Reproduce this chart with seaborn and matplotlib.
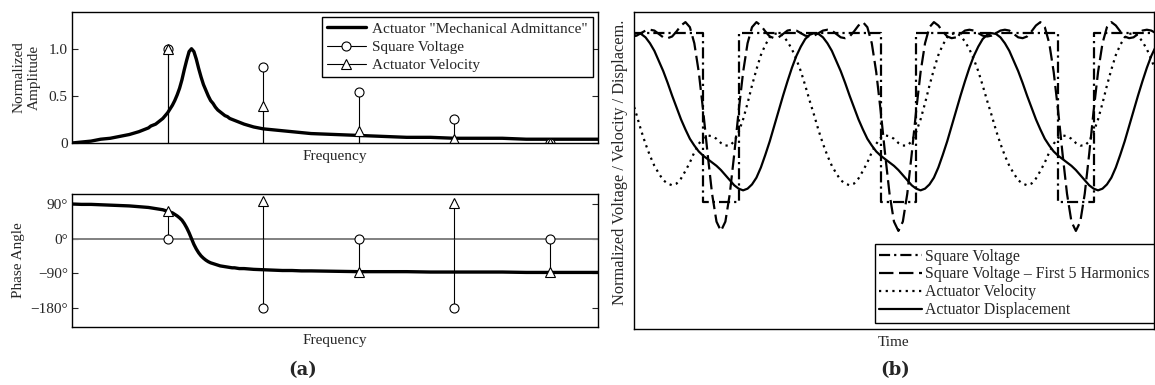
import numpy as np
import matplotlib
matplotlib.use("Agg")
import matplotlib.pyplot as plt
from matplotlib.lines import Line2D
import seaborn as sns

# (a) frequency domain: admittance curve
freq = [0, 0.1, 0.2, 0.3, 0.4, 0.5, 0.6, 0.7,
        0.8, 0.825, 0.85, 0.875, 0.9, 0.925, 0.95, 0.975, 1.0, 1.025,
        1.05, 1.075, 1.1, 1.125, 1.15, 1.175, 1.2, 1.225, 1.25, 1.275,
        1.3, 1.325, 1.35, 1.375, 1.4, 1.425, 1.45, 1.475, 1.5, 1.525,
        1.55, 1.575, 1.6, 1.625, 1.65, 1.675, 1.7, 1.725, 1.75, 1.775,
        1.8, 1.9, 2.0, 2.1, 2.2, 2.3, 2.4,
        2.5, 2.75, 3.0, 3.25, 3.5, 3.75, 4.0, 4.25, 4.5, 4.75, 5.0, 5.25, 5.5]
admittance_amp = [0.00, 0.01, 0.02, 0.04, 0.05, 0.07, 0.09, 0.12,
                  0.16, 0.18, 0.19, 0.20, 0.22, 0.24, 0.26, 0.29, 0.32, 0.36,
                  0.40, 0.45, 0.51, 0.58, 0.67, 0.78, 0.88, 0.97, 1.00, 0.97,
                  0.89, 0.79, 0.70, 0.62, 0.56, 0.50, 0.45, 0.42, 0.38, 0.35,
                  0.33, 0.31, 0.29, 0.28, 0.26, 0.25, 0.24, 0.23, 0.22, 0.21,
                  0.20, 0.17, 0.15, 0.14, 0.13, 0.12, 0.11,
                  0.10, 0.09, 0.08, 0.07, 0.06, 0.06, 0.05, 0.05, 0.05, 0.04, 0.04, 0.04, 0.04]
admittance_phase = [90, 89, 89, 88, 87, 86, 85, 83,
                    81, 80, 79, 78, 77, 76, 75, 73, 71, 69,
                    67, 63, 59, 54, 48, 39, 28, 15, 0, -15,
                    -27, -37, -45, -51, -56, -60, -63, -65, -67, -69,
                    -71, -72, -73, -74, -75, -76, -76, -77, -78, -78,
                    -78, -80, -81, -82, -83, -83, -84,
                    -84, -85, -86, -86, -86, -87, -87, -87, -87, -88, -88, -88, -88]

harmonic = [1, 2, 3, 4, 5]
voltage_amp = [1.0, 0.81, 0.54, 0.25, 0.0]
velocity_amp = [1.0, 0.39, 0.13, 0.04, 0.0]
voltage_phase = [0, -180, 0, -180, 0]
velocity_phase = [71, 99, -86, 93, -88]

# (b) time domain, three periods
square_time = [0.0, 0.4, 0.6, 1.4, 1.6, 2.4, 2.6, 2.95]
square_level = [1, -1, 1, -1, 1, -1, 1, 1]

time = np.arange(0, 2.96, 0.025)
harmonics5 = [0.96, 0.97, 1.00, 1.03, 1.04, 1.03, 0.99, 0.95, 0.94, 0.96,
              1.02, 1.09, 1.13, 1.07, 0.88, 0.54, 0.08, -0.43, -0.90, -1.23,
              -1.34, -1.23, -0.90, -0.43, 0.08, 0.54, 0.88, 1.07, 1.13, 1.09,
              1.02, 0.96, 0.94, 0.95, 0.99, 1.03, 1.04, 1.03, 1.00, 0.97,
              0.96, 0.97, 1.00, 1.03, 1.04, 1.03, 0.99, 0.95, 0.94, 0.96,
              1.02, 1.09, 1.13, 1.07, 0.88, 0.54, 0.08, -0.43, -0.90, -1.23,
              -1.34, -1.23, -0.90, -0.43, 0.08, 0.54, 0.88, 1.07, 1.13, 1.09,
              1.02, 0.96, 0.94, 0.95, 0.99, 1.03, 1.04, 1.03, 1.00, 0.97,
              0.96, 0.97, 1.00, 1.03, 1.04, 1.03, 0.99, 0.95, 0.94, 0.96,
              1.02, 1.09, 1.13, 1.07, 0.88, 0.54, 0.08, -0.43, -0.90, -1.23,
              -1.34, -1.23, -0.90, -0.43, 0.08, 0.54, 0.88, 1.07, 1.13, 1.09,
              1.02, 0.96, 0.94, 0.95, 0.99, 1.03, 1.04, 1.03, 1.00]
velocity = [0.20, 0.03, -0.15, -0.31, -0.45, -0.57, -0.66, -0.74, -0.78, -0.80,
            -0.78, -0.72, -0.63, -0.53, -0.41, -0.31, -0.24, -0.21, -0.22, -0.25,
            -0.30, -0.33, -0.33, -0.28, -0.17, -0.02, 0.17, 0.38, 0.57, 0.74,
            0.86, 0.95, 0.99, 1.00, 0.97, 0.90, 0.81, 0.69, 0.55, 0.38,
            0.20, 0.03, -0.15, -0.31, -0.45, -0.57, -0.66, -0.74, -0.78, -0.80,
            -0.78, -0.72, -0.63, -0.53, -0.41, -0.31, -0.24, -0.21, -0.22, -0.25,
            -0.30, -0.33, -0.33, -0.28, -0.17, -0.02, 0.17, 0.38, 0.57, 0.74,
            0.86, 0.95, 0.99, 1.00, 0.97, 0.90, 0.81, 0.69, 0.55, 0.38,
            0.20, 0.03, -0.15, -0.31, -0.45, -0.57, -0.66, -0.74, -0.78, -0.80,
            -0.78, -0.72, -0.63, -0.53, -0.41, -0.31, -0.24, -0.21, -0.22, -0.25,
            -0.30, -0.33, -0.33, -0.28, -0.17, -0.02, 0.17, 0.38, 0.57, 0.74,
            0.86, 0.95, 0.99, 1.00, 0.97, 0.90, 0.81, 0.69, 0.55]
displacement = [0.98, 1.00, 0.99, 0.95, 0.88, 0.79, 0.67, 0.55, 0.41, 0.26,
                0.12, -0.02, -0.14, -0.25, -0.33, -0.40, -0.45, -0.49, -0.53, -0.57,
                -0.62, -0.68, -0.74, -0.80, -0.84, -0.86, -0.84, -0.79, -0.71, -0.59,
                -0.44, -0.28, -0.10, 0.08, 0.26, 0.43, 0.59, 0.73, 0.84, 0.93,
                0.98, 1.00, 0.99, 0.95, 0.88, 0.79, 0.67, 0.55, 0.41, 0.26,
                0.12, -0.02, -0.14, -0.25, -0.33, -0.40, -0.45, -0.49, -0.53, -0.57,
                -0.62, -0.68, -0.74, -0.80, -0.84, -0.86, -0.84, -0.79, -0.71, -0.59,
                -0.44, -0.28, -0.10, 0.08, 0.26, 0.43, 0.59, 0.73, 0.84, 0.93,
                0.98, 1.00, 0.99, 0.95, 0.88, 0.79, 0.67, 0.55, 0.41, 0.26,
                0.12, -0.02, -0.14, -0.25, -0.33, -0.40, -0.45, -0.49, -0.53, -0.57,
                -0.62, -0.68, -0.74, -0.80, -0.84, -0.86, -0.84, -0.79, -0.71, -0.59,
                -0.44, -0.28, -0.10, 0.08, 0.26, 0.43, 0.59, 0.73, 0.84]

sns.set_style("ticks")
plt.rcParams["font.family"] = ["Liberation Serif", "DejaVu Serif"]
plt.rcParams["font.size"] = 11
plt.rcParams["axes.linewidth"] = 1.0
plt.rcParams["axes.edgecolor"] = "black"

fig = plt.figure(figsize=(11.55, 3.85), dpi=100)
ax1 = fig.add_axes([0.0623, 0.6286, 0.4554, 0.3403])
ax2 = fig.add_axes([0.0623, 0.1506, 0.4554, 0.3455])
ax3 = fig.add_axes([0.5489, 0.1455, 0.4502, 0.8234])

stem_kw = dict(color="black", lw=0.8, ms=6.5, mfc="white", mec="black", mew=0.8)

# amplitude
sns.lineplot(x=freq, y=admittance_amp, ax=ax1, color="black", lw=2.4, estimator=None, sort=False)
ax1.vlines(harmonic, 0, voltage_amp, color="black", lw=0.8)
ax1.vlines(harmonic, 0, velocity_amp, color="black", lw=0.8)
ax1.plot(harmonic, voltage_amp, "o", ls="none", **stem_kw)
ax1.plot(harmonic, velocity_amp, "^", ls="none", **stem_kw)
ax1.set_xlim(0, 5.5)
ax1.set_ylim(0, 1.39)
ax1.set_yticks([0, 0.5, 1.0])
ax1.set_yticklabels(["0", "0.5", "1.0"])
ax1.set_xticks([])
ax1.set_xlabel("Frequency", labelpad=5)
ax1.set_ylabel("Normalized\nAmplitude", labelpad=6)
handles = [Line2D([], [], color="black", lw=2.4),
           Line2D([], [], marker="o", **stem_kw),
           Line2D([], [], marker="^", **stem_kw)]
ax1.legend(handles, ['Actuator "Mechanical Admittance"', "Square Voltage", "Actuator Velocity"],
           loc="upper right", fancybox=False, edgecolor="black", framealpha=1,
           borderaxespad=0.35, handlelength=2.6, labelspacing=0.3, borderpad=0.3,
           handletextpad=0.4, fontsize=11)

# phase
ax2.axhline(0, color="#808080", lw=1.4, zorder=1)
sns.lineplot(x=freq, y=admittance_phase, ax=ax2, color="black", lw=2.4, estimator=None, sort=False)
ax2.vlines(harmonic, 0, voltage_phase, color="black", lw=0.8)
ax2.vlines(harmonic, 0, velocity_phase, color="black", lw=0.8)
ax2.plot(harmonic, voltage_phase, "o", ls="none", **stem_kw)
ax2.plot(harmonic, velocity_phase, "^", ls="none", **stem_kw)
ax2.set_xlim(0, 5.5)
ax2.set_ylim(-230, 116)
ax2.set_yticks([90, 0, -90, -180])
ax2.set_yticklabels(["90°", "0°", "\u221290°", "\u2212180°"])
ax2.set_xticks([])
ax2.set_xlabel("Frequency", labelpad=5)
ax2.set_ylabel("Phase Angle", labelpad=4)

for ax in (ax1, ax2):
    ax.tick_params(axis="y", direction="in", left=True, right=True, length=4, width=0.8, pad=3)
    for s in ax.spines.values():
        s.set_visible(True)

# time domain
sns.lineplot(x=square_time, y=square_level, ax=ax3, color="black", lw=1.6, drawstyle="steps-post",
             linestyle=(0, (5, 1.8, 1.0, 1.8)), estimator=None, sort=False)
sns.lineplot(x=time, y=harmonics5, ax=ax3, color="black", lw=1.6,
             linestyle=(0, (6.5, 2.5)), estimator=None, sort=False)
sns.lineplot(x=time, y=velocity, ax=ax3, color="black", lw=1.6,
             linestyle=(0, (1.0, 2.0)), estimator=None, sort=False)
sns.lineplot(x=time, y=displacement, ax=ax3, color="black", lw=1.6, estimator=None, sort=False)
ax3.set_xlim(0.01, 2.94)
ax3.set_ylim(-2.5, 1.25)
ax3.set_xticks([])
ax3.set_yticks([])
for s in ax3.spines.values():
    s.set_visible(True)
ax3.set_xlabel("Time", labelpad=5)
ax3.set_ylabel("Normalized Voltage / Velocity / Displacem.", fontsize=11.8)
ax3.yaxis.set_label_coords(-0.011, 0.527)
ax3.legend(ax3.get_lines(), ["Square Voltage", "Square Voltage \u2013 First 5 Harmonics",
                             "Actuator Velocity", "Actuator Displacement"],
           loc="lower right", bbox_to_anchor=(1.0, 0.019), fancybox=False, edgecolor="black",
           framealpha=1, borderaxespad=0, handlelength=2.7, labelspacing=0.12, borderpad=0.3,
           handletextpad=0.2, fontsize=11.3)

fig.text(0.262, 0.04, "(a)", fontsize=13, fontweight="bold", family="DejaVu Serif", ha="center", va="center")
fig.text(0.775, 0.04, "(b)", fontsize=13, fontweight="bold", family="DejaVu Serif", ha="center", va="center")

fig.savefig("out.png", dpi=100)
